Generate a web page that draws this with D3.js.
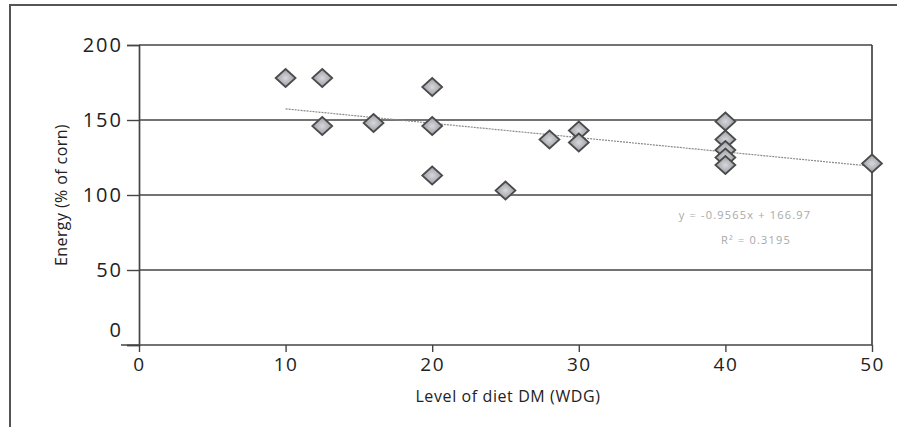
<!DOCTYPE html>
<html>
<head>
<meta charset="utf-8">
<script src="https://cdn.jsdelivr.net/npm/d3@7"></script>
<style>
  body { margin: 0; background: #fff; }
  svg { display: block; }
</style>
</head>
<body>
<div id="chart"></div>
<script>
// data
const dietLevel = [10, 12.5, 12.5, 16, 20, 20, 20, 25, 28, 30, 30, 40, 40, 40, 40, 40, 50]
const energy    = [178, 178, 146, 148, 172, 146, 113, 103, 137, 143, 135, 149, 137, 130, 125, 120, 121]
const xTicks = [0, 10, 20, 30, 40, 50]
const yTicks = [0, 50, 100, 150, 200]
const trendSlope = -0.9565
const trendIntercept = 166.97
const trendLabel = ["y = -0.9565x + 166.97", "R² = 0.3195"]

const width = 897
const height = 427
const font = "'Open Sans', 'DejaVu Sans', sans-serif"
const ink = "#444"

const x = d3.scaleLinear().domain([0, 50]).range([139, 872])
const y = d3.scaleLinear().domain([0, 200]).range([345, 45])

const svg = d3.select("#chart").append("svg")
    .attr("width", width)
    .attr("height", height)

// soft shading inside the diamonds
const grad = svg.append("defs").append("radialGradient").attr("id", "dia")
grad.append("stop").attr("offset", "0%").attr("stop-color", "#d6d8dc")
grad.append("stop").attr("offset", "100%").attr("stop-color", "#9a9ca2")

// cropped figure frame (top and left only)
svg.append("path")
    .attr("d", `M10,${height} V5 H${width}`)
    .attr("fill", "none")
    .attr("stroke", "#555")
    .attr("stroke-width", 2)

// horizontal gridlines
svg.append("g")
    .selectAll("line")
    .data(yTicks.filter(d => d > 0))
    .join("line")
    .attr("x1", x(0)).attr("x2", x(50))
    .attr("y1", d => y(d)).attr("y2", d => y(d))
    .attr("stroke", ink)
    .attr("stroke-width", 1.7)

// right border
svg.append("line")
    .attr("x1", x(50)).attr("x2", x(50))
    .attr("y1", y(200)).attr("y2", y(0))
    .attr("stroke", ink)
    .attr("stroke-width", 1.7)

// y axis
const yAxis = svg.append("g")
    .attr("transform", `translate(${x(0)},0)`)
    .call(d3.axisLeft(y).tickValues(yTicks).tickSize(12).tickPadding(4))
yAxis.select(".domain").attr("stroke", ink).attr("stroke-width", 1.7)
yAxis.selectAll(".tick line").attr("stroke", ink).attr("stroke-width", 1.4)
yAxis.selectAll(".tick text")
    .attr("font-family", font)
    .attr("font-size", 20)
    .attr("letter-spacing", 2)
    .attr("fill", "#222")
    .attr("dy", d => d === 0 ? "-0.45em" : "0.32em")

// x axis
const xAxis = svg.append("g")
    .attr("transform", `translate(0,${y(0)})`)
    .call(d3.axisBottom(x).tickValues(xTicks).tickSize(7).tickPadding(6))
xAxis.select(".domain").attr("stroke", ink).attr("stroke-width", 1.7)
    .attr("d", `M${x(0) - 18},0H${x(50)}`)
xAxis.selectAll(".tick line").attr("stroke", ink).attr("stroke-width", 1.4)
xAxis.selectAll(".tick text")
    .attr("font-family", font)
    .attr("font-size", 19)
    .attr("letter-spacing", 1.5)
    .attr("fill", "#222")

// axis titles
svg.append("text")
    .attr("x", 508).attr("y", 402)
    .attr("text-anchor", "middle")
    .attr("font-family", font)
    .attr("font-size", 16)
    .attr("letter-spacing", 0.6)
    .attr("fill", "#222")
    .text("Level of diet DM (WDG)")

svg.append("text")
    .attr("transform", "translate(67,195) rotate(-90)")
    .attr("text-anchor", "middle")
    .attr("font-family", font)
    .attr("font-size", 16)
    .attr("letter-spacing", 0.4)
    .attr("fill", "#222")
    .text("Energy (% of corn)")

// trend line across the data range
const xMin = d3.min(dietLevel), xMax = d3.max(dietLevel)
svg.append("line")
    .attr("x1", x(xMin)).attr("y1", y(trendIntercept + trendSlope * xMin))
    .attr("x2", x(xMax)).attr("y2", y(trendIntercept + trendSlope * xMax))
    .attr("stroke", "#8a8a8a")
    .attr("stroke-width", 1.2)
    .attr("stroke-dasharray", "2,1")

// equation text
svg.append("g")
    .attr("font-family", font)
    .attr("font-size", 11)
    .attr("letter-spacing", 1.2)
    .attr("fill", "#a8a8a8")
    .attr("text-anchor", "middle")
    .selectAll("text")
    .data(trendLabel)
    .join("text")
    .attr("x", (d, i) => i ? 756 : 745)
    .attr("y", (d, i) => i ? 244 : 219)
    .text(d => d)

// diamond markers
svg.append("g")
    .selectAll("path")
    .data(d3.range(dietLevel.length))
    .join("path")
    .attr("transform", i => `translate(${x(dietLevel[i])},${y(energy[i])})`)
    .attr("d", "M0,-9L10,0L0,9L-10,0Z")
    .attr("fill", "url(#dia)")
    .attr("stroke", "#4a4a4a")
    .attr("stroke-width", 1.7)
</script>
</body>
</html>
